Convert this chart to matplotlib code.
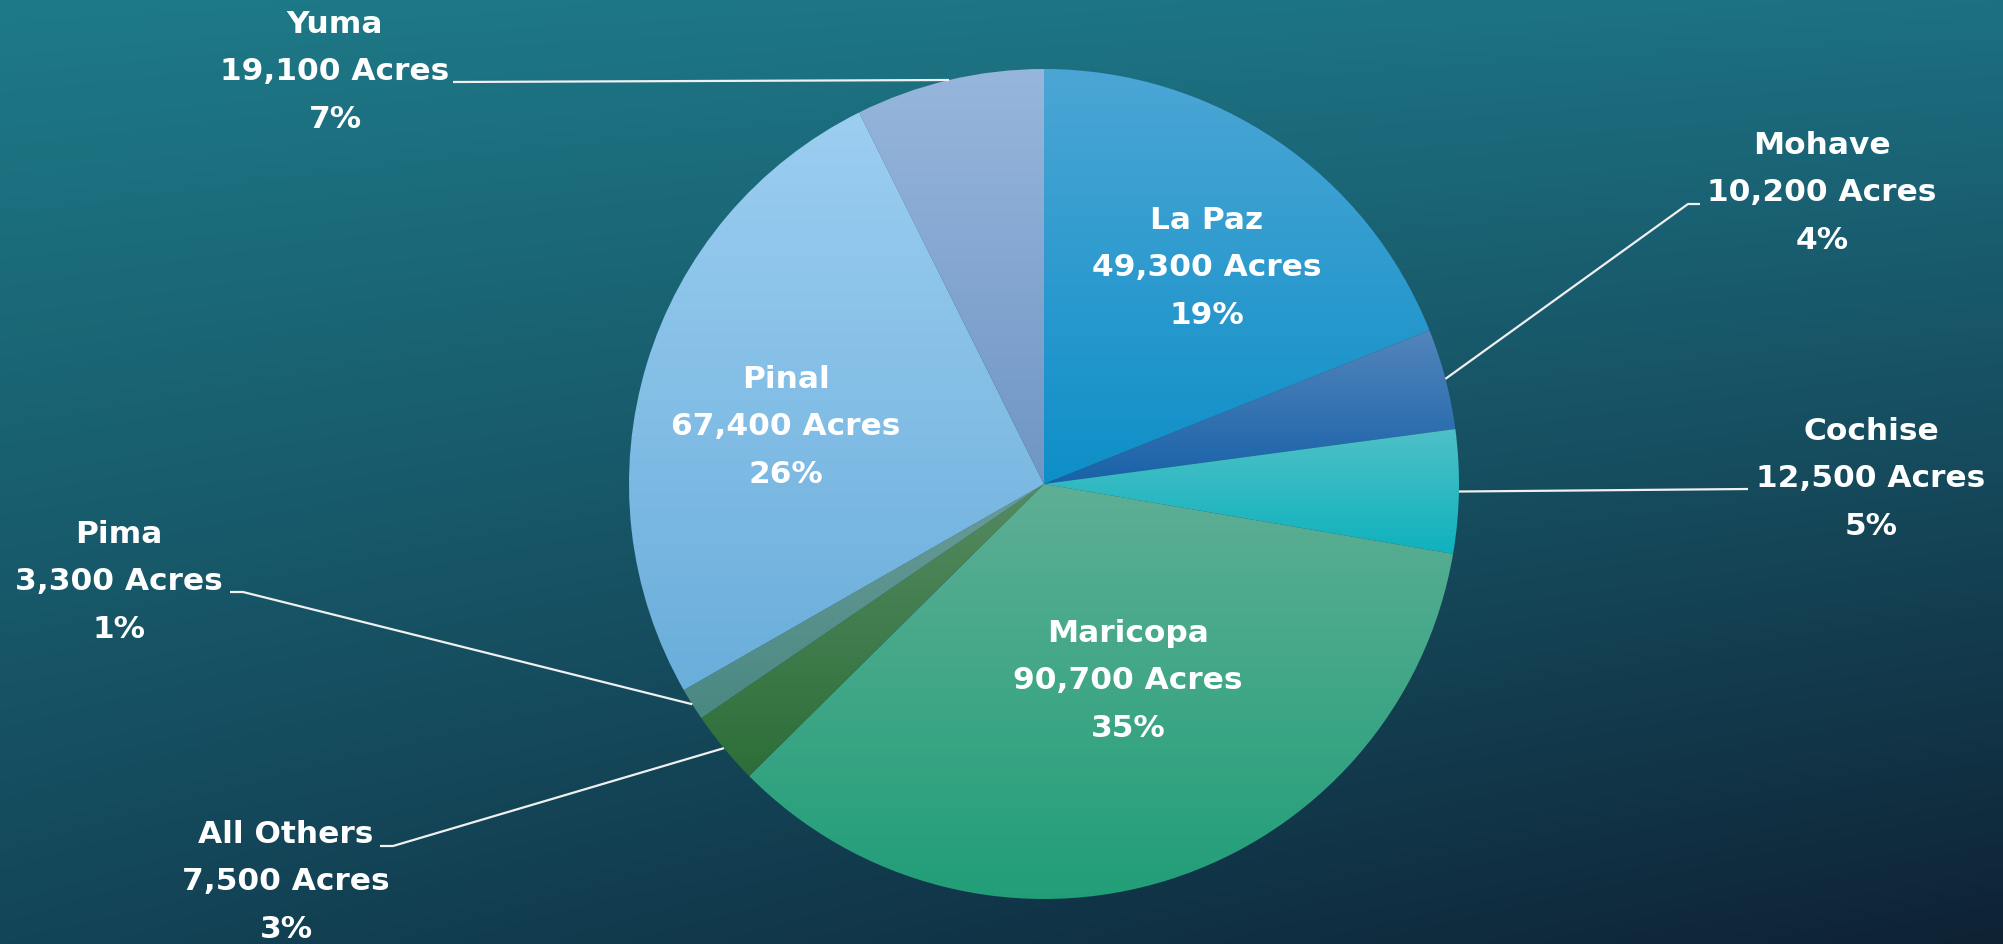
import numpy as np
import matplotlib
matplotlib.use("Agg")
import matplotlib.pyplot as plt
from matplotlib.colors import to_rgb

# county data (acres)
counties = ['La Paz', 'Mohave', 'Cochise', 'Maricopa', 'All Others', 'Pima', 'Pinal', 'Yuma']
acres = [49300, 10200, 12500, 90700, 7500, 3300, 67400, 19100]
pcts = ['19%', '4%', '5%', '35%', '3%', '1%', '26%', '7%']
# top / bottom colours of each slice gradient
top_cols = ['#4CA6D5', '#5385BC', '#4FC0C7', '#5EAF95', '#558B62', '#6A9C98', '#9CCEF1', '#97B6DC']
bot_cols = ['#0E8FC8', '#1862A8', '#0EB2BE', '#219E78', '#2D6E38', '#4A8882', '#6AAEDB', '#7096C5']

W, H = 2003, 945
fig = plt.figure(figsize=(W / 100, H / 100), dpi=100)
ax = fig.add_axes([0, 0, 1, 1])

# background gradient (bilinear between corners)
tl, tr = np.array(to_rgb('#1E7A88')), np.array(to_rgb('#1C7082'))
bl, br = np.array(to_rgb('#134558')), np.array(to_rgb('#0E2234'))
u = np.linspace(0, 1, 200)[None, :, None]
v = np.linspace(0, 1, 100)[:, None, None]
bg = (1 - v) * ((1 - u) * tl + u * tr) + v * ((1 - u) * bl + u * br)
ax.imshow(bg, extent=[0, W, 0, H], origin='upper', aspect='auto', zorder=0, interpolation='bicubic')

cx, cy, R = 1044, H - 485, 415
wedges, _ = ax.pie(acres, startangle=90, counterclock=False, center=(cx, cy), radius=R,
                   frame=False, wedgeprops=dict(linewidth=0))
ax.set_xlim(0, W)
ax.set_ylim(0, H)
ax.set_aspect('equal')
ax.axis('off')

for w, c1, c2 in zip(wedges, top_cols, bot_cols):
    w.set_facecolor('none')
    ext = w.get_path().get_extents(w.get_patch_transform())
    t = np.linspace(0, 1, 256)[:, None, None]
    grad = (1 - t) * np.array(to_rgb(c1)) + t * np.array(to_rgb(c2))
    im = ax.imshow(grad, extent=[ext.x0, ext.x1, ext.y0, ext.y1], origin='upper',
                   aspect='auto', zorder=2, interpolation='bilinear')
    im.set_clip_path(w)

font = dict(family=['DejaVu Sans'], fontweight='bold', color='white', fontsize=22.5,
            ha='center', va='center', linespacing=1.8, zorder=5)

# label positions (pixel coords, middle line), and leader line starts (None = inside)
label_xy = [(1207, 268), (1822, 193), (1871, 479), (1128, 681), (286, 882), (119, 582), (786, 427), (335, 72)]
leader = [None, [(1700, 205), (1688, 205)], [(1748, 490)], None,
          [(380, 847), (393, 847)], [(230, 593), (243, 593)], None, [(453, 83)]]

total = sum(acres)
cum = 0
for i, name in enumerate(counties):
    txt = f"{name}\n{acres[i]:,} Acres\n{pcts[i]}"
    x, y = label_xy[i]
    ax.text(x, H - y, txt, **font)
    mid = 90 - 360 * (cum + acres[i] / 2) / total
    cum += acres[i]
    if leader[i] is not None:
        ex = cx + R * np.cos(np.radians(mid))
        ey = cy + R * np.sin(np.radians(mid))
        xs = [p[0] for p in leader[i]] + [ex]
        ys = [H - p[1] for p in leader[i]] + [ey]
        ax.plot(xs, ys, color='#F0F0F0', lw=1.6, zorder=4, solid_capstyle='butt')

fig.savefig('out.png', dpi=100)
